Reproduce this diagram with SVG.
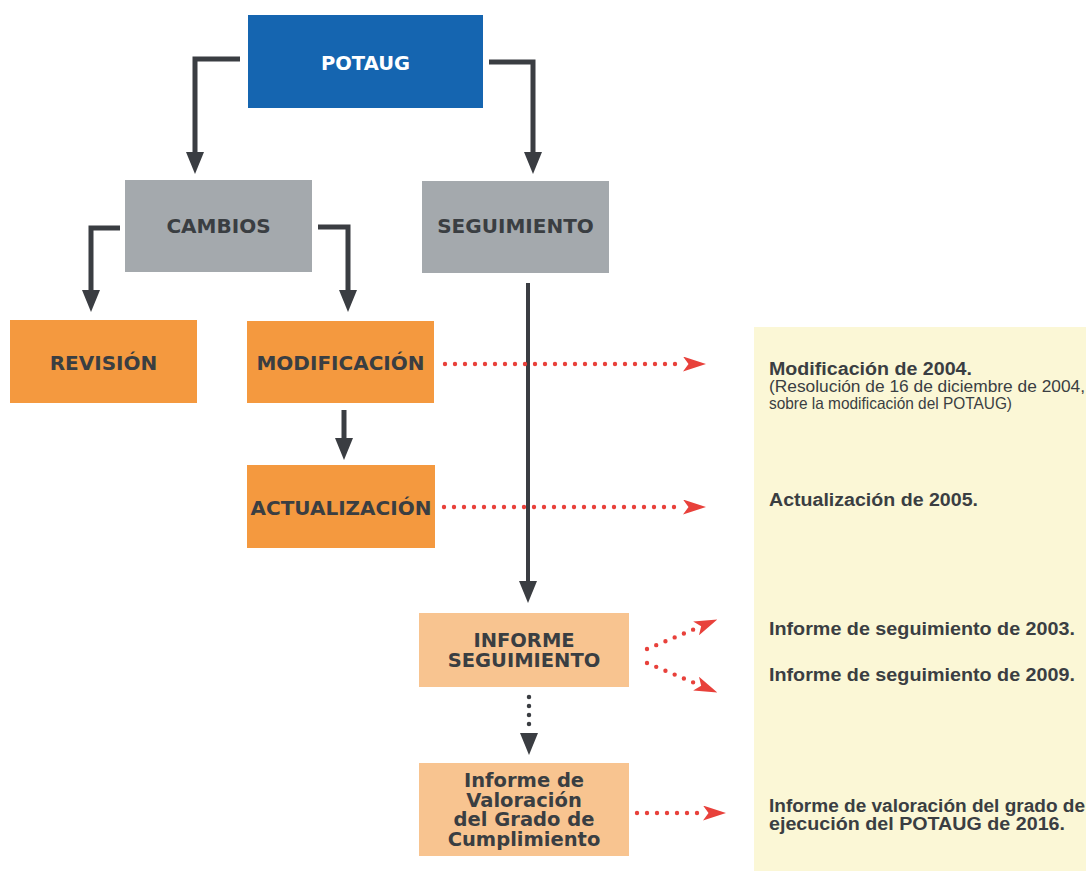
<svg xmlns="http://www.w3.org/2000/svg" width="1086" height="871" viewBox="0 0 1086 871">
<style>
.bx{font-family:"DejaVu Sans",Verdana,sans-serif;font-weight:bold;font-size:20px;fill:#3a3e42;text-anchor:middle}
.bs{font-size:19.5px}
.pt{font-family:"Liberation Sans",Arial,sans-serif;fill:#3a3e42}
.pb{font-weight:bold;font-size:17.5px}
.pr{font-size:16.5px}
.dk{fill:none;stroke:#3a3d42;stroke-width:5}
.rd{fill:none;stroke:#e8413b;stroke-width:4.4;stroke-linecap:round;stroke-dasharray:0 10}
</style>
<defs>
<marker id="ah" viewBox="0 0 22 18" markerWidth="22" markerHeight="18" refX="0" refY="9" orient="auto" markerUnits="userSpaceOnUse">
<path d="M0,0 L22,9 L0,18 z" fill="#3a3d42"/>
</marker>
<marker id="ar" viewBox="0 0 23 15" markerWidth="23" markerHeight="15" refX="1" refY="7.5" orient="auto" markerUnits="userSpaceOnUse">
<path d="M0,0 L23,7.5 L0,15 L5.5,7.5 z" fill="#e8413b"/>
</marker>
</defs>
<rect id="panel" x="754" y="327" width="332" height="544" fill="#fbf7d6"/>
<g id="connectors">
<path class="dk" d="M240,59 H195 V152" marker-end="url(#ah)"/>
<path class="dk" d="M489,62 H533 V152" marker-end="url(#ah)"/>
<path class="dk" d="M120,228 H91 V290" marker-end="url(#ah)"/>
<path class="dk" d="M318,227 H348 V290" marker-end="url(#ah)"/>
<path class="dk" d="M344,410 V438" marker-end="url(#ah)"/>
<path class="dk" style="stroke-width:4" d="M528,283 V581" marker-end="url(#ah)"/>
<path class="dk" style="stroke-width:4.5;stroke-linecap:round;stroke-dasharray:0 9" d="M529,697 V733" marker-end="url(#ah)"/>
<path class="rd" d="M445,364 H684" marker-end="url(#ar)"/>
<path class="rd" d="M444,507 H684" marker-end="url(#ar)"/>
<path class="rd" d="M647,649 L697,628" marker-end="url(#ar)"/>
<path class="rd" d="M647,663 L697,684" marker-end="url(#ar)"/>
<path class="rd" d="M637,813 H704" marker-end="url(#ar)"/>
</g>
<g id="potaug"><rect x="248" y="15" width="235" height="93" fill="#1565b0"/><text class="bx" x="365.5" y="70" style="fill:#ffffff;font-size:19.5px">POTAUG</text></g>
<g id="cambios"><rect x="125" y="180" width="187" height="92" fill="#a4a9ad"/><text class="bx" x="218.5" y="233">CAMBIOS</text></g>
<g id="seguimiento"><rect x="422" y="181" width="187" height="92" fill="#a4a9ad"/><text class="bx" x="515.5" y="233">SEGUIMIENTO</text></g>
<g id="revision"><rect x="10" y="320" width="187" height="83" fill="#f4993f"/><text class="bx" x="103.5" y="370">REVISIÓN</text></g>
<g id="modificacion"><rect x="247" y="321" width="187" height="82" fill="#f4993f"/><text class="bx" x="340.5" y="370">MODIFICACIÓN</text></g>
<g id="actualizacion"><rect x="247" y="465" width="188" height="83" fill="#f4993f"/><text class="bx" x="341" y="515">ACTUALIZACIÓN</text></g>
<g id="informe-seguimiento"><rect x="419" y="613" width="210" height="74" fill="#f8c490"/><text class="bx bs" x="524" y="647">INFORME</text><text class="bx bs" x="524" y="666.5">SEGUIMIENTO</text></g>
<g id="informe-valoracion"><rect x="419" y="763" width="210" height="93" fill="#f8c490"/><text class="bx bs" x="524" y="787">Informe de</text><text class="bx bs" x="524" y="806.5">Valoración</text><text class="bx bs" x="524" y="826">del Grado de</text><text class="bx bs" x="524" y="845.5">Cumplimiento</text></g>
<g id="panel-texts">
<text class="pt pb" x="769" y="375" textLength="203" lengthAdjust="spacingAndGlyphs">Modificación de 2004.</text>
<text class="pt pr" x="769" y="391.5" textLength="316" lengthAdjust="spacingAndGlyphs">(Resolución de 16 de diciembre de 2004,</text>
<text class="pt pr" x="769" y="408.5" textLength="243" lengthAdjust="spacingAndGlyphs">sobre la modificación del POTAUG)</text>
<text class="pt pb" x="769" y="506" textLength="209" lengthAdjust="spacingAndGlyphs">Actualización de 2005.</text>
<text class="pt pb" x="769" y="635" textLength="306" lengthAdjust="spacingAndGlyphs">Informe de seguimiento de 2003.</text>
<text class="pt pb" x="769" y="681" textLength="306" lengthAdjust="spacingAndGlyphs">Informe de seguimiento de 2009.</text>
<text class="pt pb" x="769" y="812" textLength="316" lengthAdjust="spacingAndGlyphs">Informe de valoración del grado de</text>
<text class="pt pb" x="769" y="829.5" textLength="296" lengthAdjust="spacingAndGlyphs">ejecución del POTAUG de 2016.</text>
</g>
</svg>
